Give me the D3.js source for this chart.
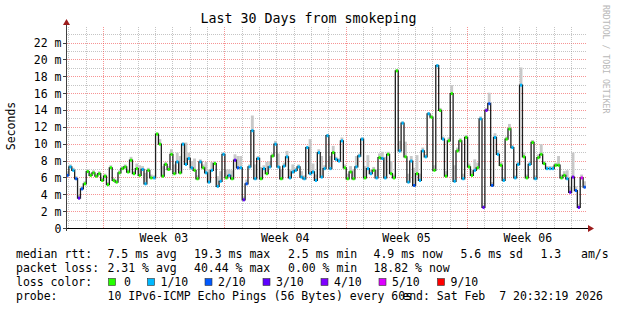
<!DOCTYPE html>
<meta charset="utf-8">
<style>
  body { margin: 0; background: #fff; }
  text { font-family: "DejaVu Sans Mono", monospace; fill: #000; white-space: pre; }
</style>
<body>
<div id="chart"></div>
<script src="https://d3js.org/d3.v7.min.js"></script>
<script>

// 30 days ending at the "end:" stamp, one median every 4 hours
var endTime = new Date(Date.UTC(2026, 1, 7, 20, 32, 19));
var startTime = new Date(endTime.getTime() - 30 * 864e5);
var stepMs = 4 * 3600e3;

// median rtt in ms
var median = [
  6.3, 7.3, 6.9, 5.9, 3.6, 4.7, 5.3, 6.75, 6.3, 6.6,
  6.2, 6.5, 5.7, 6.2, 5.2, 7.2, 5.7, 5.5, 6.6, 7.1,
  7.3, 6.7, 8.1, 6.5, 7.1, 6.3, 7.0, 5.3, 6.9, 6.0,
  6.0, 11.2, 10.0, 6.2, 7.6, 7.0, 8.8, 6.5, 7.9, 6.6,
  10.0, 7.6, 8.3, 7.2, 6.9, 5.9, 7.9, 7.2, 6.6, 5.5,
  6.9, 7.7, 5.0, 5.6, 8.8, 6.0, 6.3, 5.9, 8.1, 7.2,
  7.2, 3.4, 5.3, 7.3, 11.6, 5.9, 8.3, 5.9, 7.1, 6.5,
  7.3, 8.6, 10.0, 7.3, 5.9, 7.4, 8.5, 6.0, 6.7, 6.9,
  7.3, 6.1, 5.9, 9.6, 6.5, 6.7, 5.7, 9.0, 6.1, 7.1,
  11.0, 7.1, 9.0, 8.2, 8.0, 10.4, 7.2, 5.9, 6.7, 5.9,
  7.3, 8.6, 10.6, 6.0, 7.1, 6.5, 6.9, 6.0, 8.4, 8.3,
  6.0, 8.8, 6.5, 6.0, 18.7, 9.2, 12.5, 8.5, 5.5, 8.0,
  5.1, 6.5, 5.7, 9.2, 8.5, 13.6, 13.2, 6.9, 19.3, 14.0,
  10.6, 6.2, 10.4, 16.0, 5.6, 9.2, 10.4, 5.9, 10.8, 7.3,
  6.3, 6.9, 7.2, 13.0, 2.5, 14.0, 14.8, 5.1, 10.8, 8.8,
  7.5, 5.7, 10.6, 11.8, 9.6, 6.0, 7.6, 17.0, 8.5, 6.0,
  7.6, 10.2, 5.9, 8.4, 8.8, 7.7, 7.1, 7.1, 7.1, 7.5,
  7.5, 6.0, 6.3, 5.9, 4.3, 6.1, 4.5, 2.5, 6.0, 4.9
];

// loss level per step (index into lossColors)
var loss = [
  2, 1, 1, 2, 3, 2, 0, 0, 0, 0,
  0, 0, 0, 0, 0, 0, 0, 0, 0, 0,
  0, 0, 0, 0, 0, 0, 1, 1, 0, 0,
  1, 0, 0, 0, 0, 0, 0, 0, 1, 0,
  1, 1, 1, 1, 0, 0, 1, 0, 1, 1,
  1, 0, 1, 1, 1, 0, 1, 0, 3, 2,
  1, 3, 2, 1, 1, 1, 1, 0, 1, 0,
  1, 0, 1, 1, 0, 1, 1, 1, 1, 1,
  1, 1, 1, 1, 1, 1, 1, 1, 1, 1,
  1, 1, 0, 1, 1, 1, 0, 0, 0, 0,
  1, 1, 1, 0, 1, 1, 0, 1, 0, 1,
  1, 0, 0, 0, 0, 1, 1, 0, 1, 1,
  2, 0, 1, 1, 1, 1, 0, 0, 1, 0,
  1, 0, 0, 0, 1, 0, 0, 1, 0, 0,
  0, 1, 0, 1, 3, 4, 2, 2, 1, 1,
  0, 1, 0, 0, 1, 1, 1, 1, 0, 0,
  1, 0, 1, 0, 0, 0, 1, 1, 1, 0,
  0, 0, 0, 1, 3, 4, 2, 3, 5, 2
];

// top of the smoke (slowest pings) in ms
var smokeHi = [
  6.8, 7.6, 7.2, 6.2, 4.0, 5.0, 5.6, 7.0, 6.6, 6.9,
  6.5, 6.8, 6.0, 6.5, 5.5, 7.5, 6.0, 5.8, 6.9, 7.4,
  7.6, 7.0, 8.5, 6.8, 7.7, 7.5, 7.4, 6.6, 7.2, 6.4,
  6.3, 11.4, 10.6, 7.4, 7.9, 7.4, 9.4, 7.6, 9.0, 8.6,
  10.2, 10.2, 9.0, 8.0, 8.3, 6.3, 8.2, 7.6, 7.9, 7.0,
  7.9, 8.0, 6.2, 6.8, 9.0, 7.0, 7.0, 6.9, 8.8, 8.6,
  8.6, 3.8, 5.8, 7.6, 13.4, 7.6, 8.6, 7.3, 7.5, 7.9,
  8.0, 8.9, 10.4, 8.9, 7.0, 7.8, 9.2, 7.0, 7.6, 7.2,
  7.6, 6.8, 6.3, 9.8, 10.6, 7.7, 6.4, 9.4, 8.6, 7.5,
  11.2, 8.6, 9.8, 8.5, 8.3, 10.8, 7.6, 6.5, 7.4, 7.0,
  8.6, 8.9, 10.8, 7.4, 8.7, 7.0, 7.3, 7.0, 8.9, 9.1,
  8.5, 9.1, 8.0, 6.4, 18.9, 10.4, 12.7, 10.3, 6.5, 8.6,
  7.2, 8.7, 6.5, 9.6, 8.8, 13.8, 13.5, 7.5, 19.5, 14.3,
  10.9, 6.8, 10.8, 17.0, 7.5, 9.6, 10.7, 6.5, 11.1, 7.7,
  6.9, 8.2, 7.8, 13.3, 2.8, 14.3, 16.1, 5.5, 11.3, 9.3,
  7.9, 6.1, 10.9, 12.4, 9.9, 6.3, 7.9, 19.1, 9.0, 6.4,
  7.9, 10.5, 6.3, 8.8, 10.0, 8.0, 7.4, 7.4, 7.4, 7.8,
  8.6, 6.4, 6.8, 6.9, 5.0, 9.0, 5.0, 2.9, 6.4, 5.6
];

var lossColors = ["#26ff00", "#00b8ff", "#0059ff", "#5e00ff", "#7e00ff", "#dd00ff", "#ff0000"];
var lossLabels = ["0", "1/10", "2/10", "3/10", "4/10", "5/10", "9/10"];
var yTicks = [0, 2, 4, 6, 8, 10, 12, 14, 16, 18, 20, 22];

var rttStats = ["7.5 ms avg", "19.3 ms max", "2.5 ms min", "4.9 ms now", "5.6 ms sd", "1.3", "am/s"];
var lossStats = ["2.31 % avg", "40.44 % max", "0.00 % min", "18.82 % now"];
var probeText = "10 IPv6-ICMP Echo Pings (56 Bytes) every 60s";
var endText = "end: Sat Feb  7 20:32:19 2026";

var svg = d3.select("#chart").append("svg")
  .attr("width", 617)
  .attr("height", 310);

var x = d3.scaleUtc().domain([startTime, endTime]).range([66, 586]);
var y = d3.scaleLinear().domain([0, 23.72]).range([228.5, 28.5]);
var px = function(v) { return Math.round(v) + 0.5; };

var points = median.map(function(m, i) {
  return { t: new Date(startTime.getTime() + i * stepMs), m: m, loss: loss[i], hi: smokeHi[i] };
});

var minorGrid = "rgba(140,140,140,0.5)";
var majorGrid = "rgba(240,60,60,0.55)";

// grid: every ms (gray), every 2 ms (red)
var grid = svg.append("g").attr("fill", "none").attr("stroke-dasharray", "1,1");
d3.range(1, 24).forEach(function(v) {
  grid.append("line")
    .attr("x1", 67).attr("x2", 587)
    .attr("y1", px(y(v) - 0.5)).attr("y2", px(y(v) - 0.5))
    .attr("stroke", v % 2 ? minorGrid : majorGrid);
});
d3.utcDay.range(startTime, endTime).forEach(function(d) {
  grid.append("line")
    .attr("x1", px(x(d))).attr("x2", px(x(d)))
    .attr("y1", 228).attr("y2", 27)
    .attr("stroke", d.getUTCDay() === 0 ? majorGrid : minorGrid);
});

// smoke
var step = x(new Date(startTime.getTime() + stepMs)) - x(startTime);
svg.append("g").selectAll("rect").data(points).join("rect")
  .attr("x", function(d) { return x(d.t); })
  .attr("width", step)
  .attr("y", function(d) { return y(d.hi); })
  .attr("height", function(d) { return Math.max(0, y(d.m) - y(d.hi)); })
  .attr("fill", "#c8c8c8");

// median line
var lineData = points.concat([{ t: endTime, m: median[median.length - 1] }]);
svg.append("path")
  .datum(lineData)
  .attr("fill", "none")
  .attr("stroke", "#202020")
  .attr("stroke-width", 1.3)
  .attr("d", d3.line()
    .x(function(d) { return x(d.t); })
    .y(function(d) { return y(d.m); })
    .curve(d3.curveStepAfter));

// loss coloured marks on the median
svg.append("g").selectAll("rect").data(points).join("rect")
  .attr("x", function(d) { return x(d.t) + 0.5; })
  .attr("width", step - 0.8)
  .attr("y", function(d) { return y(d.m) - 1.5; })
  .attr("height", 3)
  .attr("fill", function(d) { return lossColors[d.loss]; });

// axes
svg.append("line").attr("x1", 63).attr("x2", 590).attr("y1", 228.5).attr("y2", 228.5)
  .attr("stroke", "#000");
svg.append("line").attr("x1", 66.5).attr("x2", 66.5).attr("y1", 231).attr("y2", 23)
  .attr("stroke", "#404040");
svg.append("path").attr("d", "M588,225 L594,228.5 L588,232 Z").attr("fill", "#9c1c1c");
svg.append("path").attr("d", "M63,25 L66.5,19 L70,25 Z").attr("fill", "#9c1c1c");

yTicks.forEach(function(v) {
  svg.append("line").attr("x1", 63).attr("x2", 66)
    .attr("y1", px(y(v) - 0.5)).attr("y2", px(y(v) - 0.5)).attr("stroke", "#404040");
  svg.append("text")
    .attr("x", 61.5).attr("y", y(v) + 4)
    .attr("text-anchor", "end")
    .style("font-size", "11.5px")
    .text(v === 0 ? "0" : v + " m");
});

// week labels, centred on each week
d3.utcSunday.range(d3.utcSunday.floor(startTime), endTime).forEach(function(w) {
  var mid = new Date(w.getTime() + 3.5 * 864e5);
  if (mid < startTime || mid > endTime) return;
  svg.append("text")
    .attr("x", x(mid)).attr("y", 242)
    .attr("text-anchor", "middle")
    .style("font-size", "11.5px")
    .text("Week " + d3.utcFormat("%V")(mid));
});

// titles
svg.append("text")
  .attr("x", 308.5).attr("y", 23)
  .attr("text-anchor", "middle")
  .style("font-size", "13.3px")
  .text("Last 30 Days from smokeping");

svg.append("text")
  .attr("transform", "translate(15,126) rotate(-90)")
  .attr("text-anchor", "middle")
  .style("font-size", "11.5px")
  .text("Seconds");

svg.append("text")
  .attr("transform", "translate(603,5) rotate(90)")
  .style("font-size", "8.2px")
  .style("fill", "#b8b8b8")
  .text("RRDTOOL / TOBI OETIKER");

// legend
var legend = svg.append("g").style("font-size", "11.5px");
function put(str, lx, ly, anchor) {
  legend.append("text").attr("x", lx).attr("y", ly)
    .attr("text-anchor", anchor || "start").text(str);
}
var statX = [107.5, 194, 288, 373.5, 460.5, 540.5, 581];
put("median rtt:", 16, 258);
rttStats.forEach(function(s, i) { put(s, statX[i], 258); });
put("packet loss:", 16, 272);
lossStats.forEach(function(s, i) { put(s, statX[i], 272); });
put("loss color:", 16, 286);
var boxX = [108, 147, 204.5, 262.5, 320.5, 378.5, 437];
lossLabels.forEach(function(l, i) {
  legend.append("rect")
    .attr("x", boxX[i] + 0.5).attr("y", 278.5)
    .attr("width", 7).attr("height", 7)
    .attr("fill", lossColors[i])
    .attr("stroke", "#333").attr("stroke-width", 0.6);
  put(l, boxX[i] + (i === 0 ? 16 : 13.5), 286);
});
put("probe:", 16, 300);
put(probeText, 107.5, 300);
put(endText, 603, 300, "end");

</script>
</body>
